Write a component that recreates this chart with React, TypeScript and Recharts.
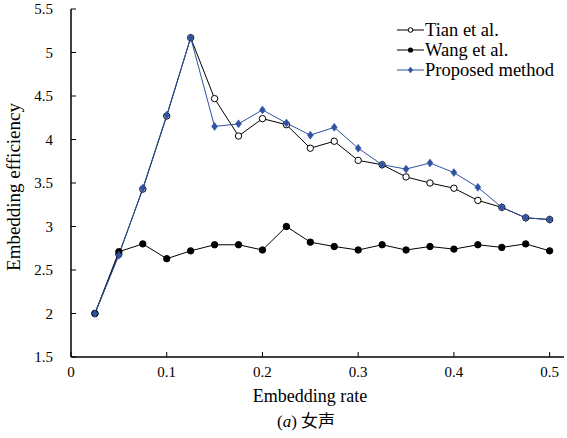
import { LineChart, Line, XAxis, YAxis, Legend } from "recharts";

// embedding rate (x)
const rates = [
  0.025, 0.05, 0.075, 0.1, 0.125, 0.15, 0.175, 0.2, 0.225, 0.25,
  0.275, 0.3, 0.325, 0.35, 0.375, 0.4, 0.425, 0.45, 0.475, 0.5,
];

const tianVals = [
  2.0, 2.68, 3.43, 4.27, 5.17, 4.47, 4.04, 4.24, 4.17, 3.9,
  3.98, 3.76, 3.71, 3.57, 3.5, 3.44, 3.3, 3.22, 3.1, 3.08,
];

const wangVals = [
  2.0, 2.71, 2.8, 2.63, 2.72, 2.79, 2.79, 2.73, 3.0, 2.82,
  2.77, 2.73, 2.79, 2.73, 2.77, 2.74, 2.79, 2.76, 2.8, 2.72,
];

const proposedVals = [
  2.0, 2.67, 3.44, 4.28, 5.17, 4.15, 4.18, 4.34, 4.19, 4.05,
  4.14, 3.9, 3.71, 3.66, 3.73, 3.62, 3.45, 3.22, 3.1, 3.08,
];

const xTicks = [0, 0.1, 0.2, 0.3, 0.4, 0.5];
const yTicks = [1.5, 2, 2.5, 3, 3.5, 4, 4.5, 5, 5.5];

const seriesNames = ["Tian et al.", "Wang et al.", "Proposed method"];

const BLUE = "#2f52a3";
const FONT = '"Liberation Serif", "Times New Roman", serif';

const data = rates.map((r, i) => ({
  rate: r,
  tian: tianVals[i],
  wang: wangVals[i],
  proposed: proposedVals[i],
}));

const Diamond = (props: any) => {
  const { cx, cy, r = 4, fill } = props;
  if (cx == null || cy == null) return <g />;
  return (
    <path
      d={`M${cx},${cy - r} L${cx + r * 0.75},${cy} L${cx},${cy + r} L${cx - r * 0.75},${cy} Z`}
      fill={fill}
      stroke={fill}
      strokeWidth={0.5}
    />
  );
};

const XTick = (props: any) => {
  const { x, y, payload } = props;
  return (
    <text x={x} y={y} dy="0.71em" textAnchor="middle" fontSize={15} fill="#000" fontFamily={FONT}>
      {payload.value}
    </text>
  );
};

const NoTick = () => <g />;

const LegendBox = () => {
  const rows = [
    { name: seriesNames[0], color: "#000", mark: "open" },
    { name: seriesNames[1], color: "#000", mark: "dot" },
    { name: seriesNames[2], color: BLUE, mark: "diamond" },
  ];
  return (
    <div style={{ fontFamily: FONT }}>
      {rows.map((row) => (
        <div key={row.name} style={{ display: "flex", alignItems: "center", height: 20 }}>
          <svg width={28} height={20} style={{ display: "block" }}>
            <line x1={0} y1={10} x2={27} y2={10} stroke={row.color} strokeWidth={1} />
            {row.mark === "open" && <circle cx={13.5} cy={10} r={2.3} fill="#fff" stroke="#000" strokeWidth={1} />}
            {row.mark === "dot" && <circle cx={13.5} cy={10} r={2.6} fill="#000" />}
            {row.mark === "diamond" && <Diamond cx={13.5} cy={10} r={3} fill={BLUE} />}
          </svg>
          <span style={{ fontSize: 18.5, lineHeight: "20px", color: "#000", whiteSpace: "nowrap" }}>{row.name}</span>
        </div>
      ))}
    </div>
  );
};

export default function App() {
  return (
    <div
      style={{
        position: "absolute",
        left: 0,
        top: 0,
        width: 567,
        height: 438,
        background: "#fff",
        fontFamily: FONT,
      }}
    >
      <LineChart width={567} height={438} data={data} margin={{ top: 9, right: 3, bottom: 0, left: 0 }}>
        <XAxis
          dataKey="rate"
          type="number"
          domain={[0, 0.515]}
          ticks={xTicks}
          height={81}
          tickSize={-5}
          tickMargin={14}
          tick={<XTick />}
          axisLine={{ stroke: "#000", strokeWidth: 1.5 }}
          tickLine={{ stroke: "#000", strokeWidth: 1 }}
        />
        <XAxis
          xAxisId="top"
          orientation="top"
          dataKey="rate"
          type="number"
          domain={[0, 0.515]}
          ticks={xTicks}
          height={0}
          tickSize={-5}
          tick={<NoTick />}
          axisLine={{ stroke: "#000", strokeWidth: 1.5 }}
          tickLine={{ stroke: "#000", strokeWidth: 1 }}
        />
        <YAxis
          type="number"
          domain={[1.5, 5.5]}
          ticks={yTicks}
          width={71}
          tickSize={-5}
          tickMargin={23}
          tick={{ fontSize: 15, fill: "#000", fontFamily: FONT }}
          axisLine={{ stroke: "#000", strokeWidth: 1.5 }}
          tickLine={{ stroke: "#000", strokeWidth: 1 }}
        />
        <YAxis
          yAxisId="right"
          orientation="right"
          type="number"
          domain={[1.5, 5.5]}
          ticks={yTicks}
          width={0}
          tickSize={-5}
          tick={<NoTick />}
          axisLine={{ stroke: "#000", strokeWidth: 1.5 }}
          tickLine={{ stroke: "#000", strokeWidth: 1 }}
        />
        <Legend
          layout="vertical"
          align="center"
          verticalAlign="middle"
          content={<LegendBox />}
          wrapperStyle={{ left: 397, top: 20, width: 170, height: 60 }}
        />
        <Line
          dataKey="tian"
          name={seriesNames[0]}
          stroke="#000"
          strokeWidth={1}
          isAnimationActive={false}
          dot={{ r: 3.2, fill: "#fff", stroke: "#000", strokeWidth: 1 }}
        />
        <Line
          dataKey="wang"
          name={seriesNames[1]}
          stroke="#000"
          strokeWidth={1}
          isAnimationActive={false}
          dot={{ r: 3.2, fill: "#000", stroke: "#000", strokeWidth: 1 }}
        />
        <Line
          dataKey="proposed"
          name={seriesNames[2]}
          stroke={BLUE}
          strokeWidth={1}
          isAnimationActive={false}
          dot={(p: any) => <Diamond key={p.index} cx={p.cx} cy={p.cy} r={4} fill={BLUE} />}
        />
      </LineChart>
      <div
        style={{
          position: "absolute",
          left: 14,
          top: 187,
          transform: "translate(-50%, -50%) rotate(-90deg)",
          fontSize: 19,
          whiteSpace: "nowrap",
          color: "#000",
        }}
      >
        Embedding efficiency
      </div>
      <div
        style={{
          position: "absolute",
          left: 310,
          top: 396,
          transform: "translate(-50%, -50%)",
          fontSize: 18,
          whiteSpace: "nowrap",
          color: "#000",
        }}
      >
        Embedding rate
      </div>
      <div
        style={{
          position: "absolute",
          left: 306,
          top: 419,
          transform: "translate(-50%, -50%)",
          fontSize: 17,
          whiteSpace: "nowrap",
          color: "#000",
        }}
      >
        (<i>a</i>) <span style={{ fontFamily: '"Noto Sans CJK SC", sans-serif', fontSize: 17 }}>女声</span>
      </div>
    </div>
  );
}
